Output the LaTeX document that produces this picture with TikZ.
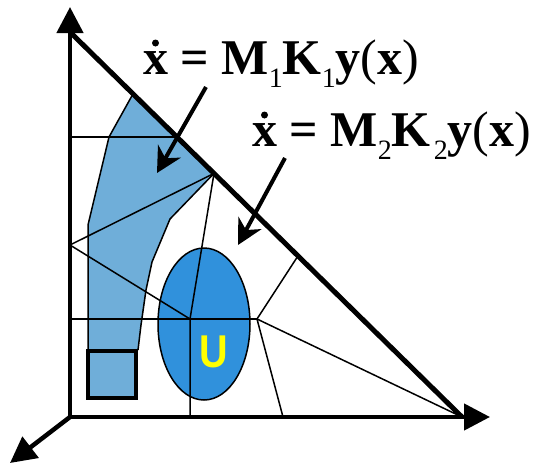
\documentclass[tikz,border=0pt]{standalone}
\usepackage{fontspec}
\setmainfont{Liberation Serif}
\newfontfamily\ufont{Liberation Sans}
\usetikzlibrary{arrows.meta,calc}
\definecolor{lightblu}{HTML}{6FAED9}
\definecolor{ellblu}{HTML}{3091DC}
\definecolor{uyel}{HTML}{FFFF00}
\newcommand{\sbs}[1]{\raisebox{-0.26em}{\fontsize{28}{28}\selectfont\mdseries #1}}
\newcommand{\rp}[1]{{\mdseries #1}}
\begin{document}
\begin{tikzpicture}[x=1pt,y=-1pt,
  thinln/.style={line width=1.5pt, line join=round},
  axis/.style={line width=4.5pt, -{Triangle[length=26pt,width=26pt]}},
  callout/.style={line width=4pt, -{Stealth[length=25pt,width=26pt,inset=8pt]}},
  eqlabel/.style={anchor=base west, inner sep=0pt, font=\fontsize{50}{50}\selectfont\bfseries},
  accdot/.style={fill=black, circle, inner sep=0pt, minimum size=7pt}]
\useasboundingbox (0,0) rectangle (547,464);
% key points
\coordinate (O) at (70,417);
\coordinate (Ytip) at (70,7);
\coordinate (Xtip) at (490,417);
\coordinate (Ztip) at (10,463);
\coordinate (T) at (70,32);
\coordinate (C) at (462,417);
\coordinate (H1) at (177,137);
\coordinate (Q) at (214,173.4);
\coordinate (H3) at (298,255.9);
\coordinate (Btop) at (133,93.9);
\coordinate (L1) at (70,137);
\coordinate (L2) at (70,245);
\coordinate (L3) at (70,319);
\coordinate (P) at (190,319);
\coordinate (R) at (257,319);
\coordinate (B1) at (190,417);
\coordinate (B2) at (283,417);
% blue region
\fill[lightblu] (Btop) -- (Q) -- (170,219) -- (152,262) -- (146,290) -- (141,325) -- (138,350) -- (88,350) -- (88,225) -- (109,137) -- cycle;
\draw[thinln] (Q) -- (170,219) -- (152,262) -- (146,290) -- (141,325) -- (138,350);
\draw[thinln] (88,350) -- (88,225) -- (109,137) -- (Btop);
% square
\draw[line width=4pt, fill=lightblu] (88,351) rectangle (136,398);
% ellipse
\draw[thinln, fill=ellblu] (204,324) ellipse [x radius=46, y radius=76];
% thin partition lines
\draw[thinln] (L1) -- (H1);
\draw[thinln] (Q) -- (L2) -- (P);
\draw[thinln] (Q) -- (P) -- (B1);
\draw[thinln] (L3) -- (R);
\draw[thinln] (R) -- (H3);
\draw[thinln] (R) -- (B2);
\draw[thinln] (R) -- (C);
% hypotenuse
\draw[line width=5pt] (T) -- (C);
% axes
\draw[axis] (O) -- (Ytip);
\draw[axis] (O) -- (Xtip);
\draw[axis] (O) -- (Ztip);
\fill (68,419.25) rectangle (72.25,414.75);
% U label
\node[inner sep=0pt, text=uyel, font=\ufont\bfseries\fontsize{46}{46}\selectfont] (U) at (214,352) {\scalebox{0.86}[1]{U}};
% callout arrows
\coordinate (a1s) at (206,87);
\coordinate (a1e) at (157,173);
\coordinate (a2s) at (285,158);
\coordinate (a2e) at (238,245);
\draw[callout] (a1s) -- (a1e);
\draw[callout] (a2s) -- (a2e);
% labels
\node[eqlabel] (lab1) at (143,74) {x = M\sbs{1}K\sbs{1}y\rp{(}x\rp{)}};
\node[eqlabel] (lab2) at (252,146) {x = M\sbs{2}K\kern3pt\sbs{2}y\rp{(}x\rp{)}};
\node[accdot] (dot1) at ($(lab1.base west)+(12.5,-31)$) {};
\node[accdot] (dot2) at ($(lab2.base west)+(12.5,-31)$) {};
\end{tikzpicture}
\end{document}
